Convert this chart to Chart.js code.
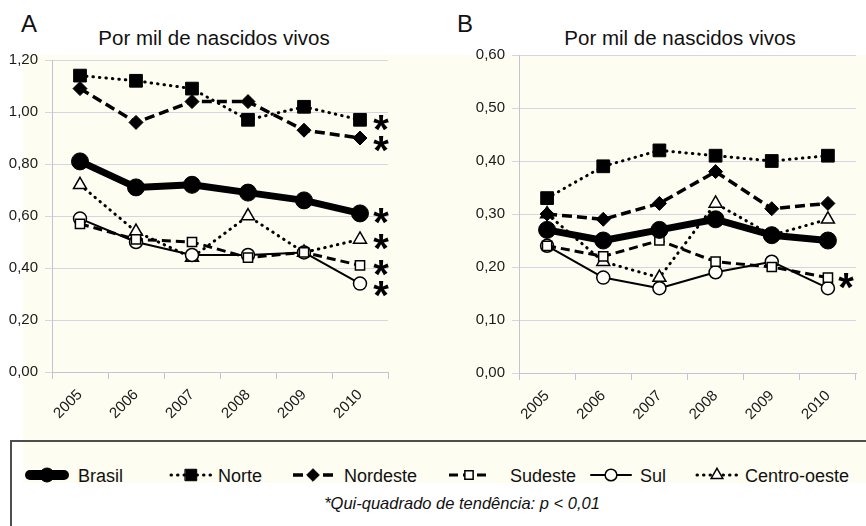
<!DOCTYPE html>
<html>
<head>
<meta charset="utf-8">
<script src="https://cdn.jsdelivr.net/npm/chart.js@4.4.0/dist/chart.umd.min.js"></script>
<style>
    body { margin: 0; background: #fff; font-family: "Liberation Sans", Arial, sans-serif; color: #111; }
    #page { position: relative; width: 866px; height: 526px; overflow: hidden; }
    .cream { position: absolute; left: 23px; top: 55px; width: 843px; height: 386px; background: #fdfdf1; }
    .letter { position: absolute; top: 12px; font-size: 24px; line-height: 1; }
    .title { position: absolute; top: 28px; font-size: 20.5px; line-height: 1; white-space: nowrap; transform: translateX(-50%); }
    canvas.chart { position: absolute; top: 0; }
    #legend-box { position: absolute; left: 10px; top: 440px; width: 880px; height: 120px;
                  border-top: 2px solid #4e4e4e; border-left: 2px solid #4e4e4e; }
    #legend-band { position: absolute; left: 11px; top: 0; width: 870px; height: 41px; background: #fdfdf1; }
    .leg-sym { position: absolute; top: 22px; }
    .leg-text { position: absolute; top: 25px; font-size: 18px; line-height: 1; white-space: nowrap; }
    #footnote { position: absolute; top: 53px; left: 450px; transform: translateX(-50%);
                font-size: 16.5px; line-height: 1; font-style: italic; white-space: nowrap; }
</style>
</head>
<body>
<div id="page">
    <div class="cream"></div>
    <div class="letter" style="left:21px">A</div>
    <div class="letter" style="left:457px">B</div>
    <div class="title" style="left:214px">Por mil de nascidos vivos</div>
    <div class="title" style="left:680px">Por mil de nascidos vivos</div>
    <canvas id="chartA" class="chart" width="440" height="440" style="left:0"></canvas>
    <canvas id="chartB" class="chart" width="426" height="440" style="left:440px"></canvas>
    <div id="legend-box">
        <div id="legend-band"></div>
        <div id="footnote">*Qui-quadrado de tendência: p &lt; 0,01</div>
    </div>
</div>

<script>
// --- data ---
const years = ["2005", "2006", "2007", "2008", "2009", "2010"];
const seriesNames = ["Brasil", "Norte", "Nordeste", "Sudeste", "Sul", "Centro-oeste"];

// panel A
const brasilA  = [0.81, 0.71, 0.72, 0.69, 0.66, 0.61];
const norteA   = [1.14, 1.12, 1.09, 0.97, 1.02, 0.97];
const nordesteA = [1.09, 0.96, 1.04, 1.04, 0.93, 0.90];
const sudesteA = [0.57, 0.51, 0.50, 0.44, 0.46, 0.41];
const sulA     = [0.59, 0.50, 0.45, 0.45, 0.46, 0.34];
const centroA  = [0.72, 0.54, 0.44, 0.60, 0.46, 0.51];

// panel B
const brasilB  = [0.27, 0.25, 0.27, 0.29, 0.26, 0.25];
const norteB   = [0.33, 0.39, 0.42, 0.41, 0.40, 0.41];
const nordesteB = [0.30, 0.29, 0.32, 0.38, 0.31, 0.32];
const sudesteB = [0.24, 0.22, 0.25, 0.21, 0.20, 0.18];
const sulB     = [0.24, 0.18, 0.16, 0.19, 0.21, 0.16];
const centroB  = [0.30, 0.21, 0.18, 0.32, 0.26, 0.29];

const yMaxA = 1.2, yStepA = 0.2;
const yMaxB = 0.6, yStepB = 0.1;

// series marked with * (trend test)
const starredA = ["Brasil", "Norte", "Nordeste", "Sudeste", "Sul", "Centro-oeste"];
const starredB = ["Sudeste"];

// --- styles ---
const FONT = '"Liberation Sans", Arial, sans-serif';
const gridColor = "#d6d6e2";
const axisColor = "#c4c4d2";
const openFill = "#fffffa";

const seriesStyle = {
    "Brasil":       { width: 7,   dash: [],       cap: "round", point: "circle",  r: 8.5, fill: "#000" },
    "Norte":        { width: 3,   dash: [0.5, 6], cap: "round", point: "rect",    r: 9,   fill: "#000" },
    "Nordeste":     { width: 3.5, dash: [10, 5],  cap: "butt",  point: "rectRot", r: 7,   fill: "#000" },
    "Sudeste":      { width: 3,   dash: [9, 5],   cap: "butt",  point: "rect",    r: 6.5, fill: openFill },
    "Sul":          { width: 2,   dash: [],       cap: "round", point: "circle",  r: 6.5, fill: openFill },
    "Centro-oeste": { width: 3,   dash: [0.5, 6], cap: "round", point: "triangle", r: 7.5, fill: openFill }
};

const legendSymX = [24, 168, 290, 446, 588, 694];
const legendTextX = [66, 206, 332, 498, 628, 733];

Chart.defaults.font.family = FONT;
Chart.defaults.color = "#1a1a1a";

function makeDataset(name, values)
{
    const s = seriesStyle[name];
    return {
        label: name,
        data: values,
        borderColor: "#000",
        borderWidth: s.width,
        borderDash: s.dash,
        borderCapStyle: s.cap,
        borderJoinStyle: "round",
        tension: 0,
        fill: false,
        pointStyle: s.point,
        pointRadius: s.r,
        pointHoverRadius: s.r,
        pointBackgroundColor: s.fill,
        pointBorderColor: "#000",
        pointBorderWidth: s.fill === "#000" ? 1 : 1.5
    };
}

const asteriskPlugin = {
    id: "asterisks",
    afterDatasetsDraw(chart, args, opts)
    {
        const ctx = chart.ctx;
        let marks = [];
        chart.data.datasets.forEach((ds, i) => {
            if(!opts.series.includes(ds.label)) return;
            const meta = chart.getDatasetMeta(i);
            const pt = meta.data[meta.data.length - 1];
            marks.push({ x: pt.x + opts.dx, y: pt.y + opts.dy });
        });
        marks.sort((a, b) => a.y - b.y);
        for(let k = 1; k < marks.length; k++)
        {
            if(marks[k].y - marks[k - 1].y < opts.gap)
                marks[k].y = marks[k - 1].y + opts.gap;
        }
        ctx.save();
        ctx.font = "bold 40px " + FONT;
        ctx.fillStyle = "#000";
        ctx.textAlign = "center";
        ctx.textBaseline = "alphabetic";
        const m = ctx.measureText("*");
        const shift = (m.actualBoundingBoxAscent - m.actualBoundingBoxDescent) / 2;
        marks.forEach(mk => ctx.fillText("*", mk.x, mk.y + shift));
        ctx.restore();
    }
};

function fmt(v)
{
    return v.toFixed(2).replace(".", ",");
}

function buildChart(canvasId, datasets, yMax, yStep, yWidth, xHeight, pad, starred, astDx)
{
    const ctx = document.getElementById(canvasId).getContext("2d");
    return new Chart(ctx, {
        type: "line",
        data: { labels: years, datasets: datasets },
        plugins: [asteriskPlugin],
        options: {
            responsive: false,
            animation: false,
            layout: { padding: pad },
            plugins: {
                legend: { display: false },
                tooltip: { enabled: false },
                title: { display: false },
                asterisks: { series: starred, dx: astDx, dy: 3, gap: 21 }
            },
            scales: {
                x: {
                    offset: true,
                    grid: { display: true, drawOnChartArea: false, drawTicks: true, tickLength: 7, color: axisColor, offset: true },
                    border: { display: true, color: axisColor },
                    ticks: { minRotation: 45, maxRotation: 45, padding: 7, font: { size: 15 }, color: "#1a1a1a" },
                    afterFit: s => { s.height = xHeight; }
                },
                y: {
                    min: 0,
                    max: yMax,
                    grid: { color: gridColor, tickLength: 7, lineWidth: 1 },
                    border: { display: true, color: axisColor },
                    ticks: { stepSize: yStep, padding: 7, font: { size: 15 }, color: "#1a1a1a",
                             callback: v => fmt(v) },
                    afterFit: s => { s.width = yWidth; }
                }
            }
        }
    });
}

const valuesA = [brasilA, norteA, nordesteA, sudesteA, sulA, centroA];
const valuesB = [brasilB, norteB, nordesteB, sudesteB, sulB, centroB];

buildChart("chartA", seriesNames.map((n, i) => makeDataset(n, valuesA[i])),
           yMaxA, yStepA, 52, 68, { top: 60, right: 52, left: 0, bottom: 0 }, starredA, 21);
buildChart("chartB", seriesNames.map((n, i) => makeDataset(n, valuesB[i])),
           yMaxB, yStepB, 79, 67, { top: 55, right: 2, left: 0, bottom: 0 }, starredB, 18);

// --- legend ---
function drawMarker(c, style, x, y, r, fill)
{
    c.beginPath();
    if(style === "circle")
    {
        c.arc(x, y, r, 0, Math.PI * 2);
    }
    else if(style === "rect")
    {
        const s = Math.SQRT1_2 * r;
        c.rect(x - s, y - s, 2 * s, 2 * s);
    }
    else if(style === "rectRot")
    {
        c.moveTo(x, y - r); c.lineTo(x + r, y); c.lineTo(x, y + r); c.lineTo(x - r, y);
        c.closePath();
    }
    else if(style === "triangle")
    {
        let a = 0;
        c.moveTo(x + Math.sin(a) * r, y - Math.cos(a) * r);
        a += Math.PI * 2 / 3;
        c.lineTo(x + Math.sin(a) * r, y - Math.cos(a) * r);
        a += Math.PI * 2 / 3;
        c.lineTo(x + Math.sin(a) * r, y - Math.cos(a) * r);
        c.closePath();
    }
    c.fillStyle = fill;
    c.fill();
    c.lineWidth = fill === "#000" ? 1 : 1.5;
    c.strokeStyle = "#000";
    c.stroke();
}

const box = document.getElementById("legend-box");
seriesNames.forEach((name, i) => {
    const s = seriesStyle[name];
    const cv = document.createElement("canvas");
    cv.width = 46; cv.height = 22;
    cv.className = "leg-sym";
    cv.style.left = (legendSymX[i] - 12) + "px";
    box.appendChild(cv);
    const c = cv.getContext("2d");
    c.strokeStyle = "#000";
    c.lineWidth = name === "Brasil" ? 10 : s.width;
    c.lineCap = s.cap;
    c.setLineDash(s.dash);
    c.beginPath();
    c.moveTo(name === "Brasil" ? 6 : 3, 11);
    c.lineTo(name === "Brasil" ? 40 : 43, 11);
    c.stroke();
    c.setLineDash([]);
    drawMarker(c, s.point, 23, 11, name === "Brasil" ? 7 : s.r * 0.9, s.fill);

    const t = document.createElement("div");
    t.className = "leg-text";
    t.style.left = legendTextX[i] + "px";
    t.textContent = name;
    box.appendChild(t);
});
</script>
</body>
</html>
